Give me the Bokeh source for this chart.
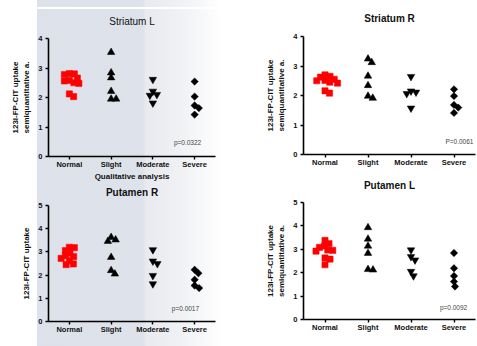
from bokeh.plotting import figure
from bokeh.layouts import row, column
from bokeh.models import FactorRange, Range1d, Label, Title, SingleIntervalTicker, ColumnDataSource
from bokeh.embed import file_html
from bokeh.resources import INLINE

groups = ["Normal", "Slight", "Moderate", "Severe"]

# Striatum L
sl_normal = [2.80, 2.78, 2.81, 2.58, 2.56, 2.66, 2.50, 2.48, 2.12, 2.03]
sl_slight = [3.53, 2.84, 2.67, 2.21, 1.95, 1.95]
sl_moderate = [2.61, 2.10, 2.07, 2.21, 1.81]
sl_severe = [2.54, 2.03, 1.73, 1.64, 1.42]
sl_p = "p=0.0322"

# Striatum R
sr_normal = [2.65, 2.62, 2.70, 2.50, 2.45, 2.42, 2.51, 2.55, 2.16, 2.08]
sr_slight = [3.24, 3.12, 2.66, 2.34, 1.91, 1.98]
sr_moderate = [2.64, 2.11, 2.06, 2.15, 1.57]
sr_severe = [2.21, 1.98, 1.68, 1.59, 1.41]
sr_p = "P=0.0061"

# Putamen R
pr_normal = [3.20, 3.18, 3.06, 2.95, 2.84, 2.80, 2.72, 2.62, 2.48, 2.45]
pr_slight = [3.63, 3.46, 3.52, 2.77, 2.05, 2.20]
pr_moderate = [3.09, 2.60, 2.49, 1.98, 1.62]
pr_severe = [2.23, 2.08, 1.80, 1.55, 1.44]
pr_p = "p=0.0017"

# Putamen L
pl_normal = [3.38, 3.24, 3.14, 3.08, 2.95, 2.97, 2.92, 2.63, 2.58, 2.34]
pl_slight = [3.93, 3.44, 3.14, 2.83, 2.12, 2.14]
pl_moderate = [2.68, 2.97, 2.54, 2.05, 1.86]
pl_severe = [2.84, 2.19, 1.86, 1.62, 1.41]
pl_p = "p=0.0092"

ylabel_two = "123I-FP-CIT uptake\nsemiquantitative a."
ylabel_one = "123I-FP-CIT uptake"
xlabel_tl = "Qualitative analysis"

FONT = "Liberation Sans"
BAND = ("linear-gradient(to right, #ffffff 0px, #ffffff 37px, #dde1ea 37px, "
        "#dee2eb 143px, #e8eaef 146px, #f0f1f4 180px, #ffffff 222px)")
TOPLINE = ("linear-gradient(to bottom, rgba(255,255,255,0) 7px, #ffffff 7px, "
           "#ffffff 9px, rgba(255,255,255,0) 9px)")


def swarm(values, px_per_x, px_per_y, d=5.0):
    placed = []
    offs = [0.0] * len(values)
    order = sorted(range(len(values)), key=lambda i: -values[i])
    step = 0.25
    for i in order:
        y = values[i] * px_per_y
        k = 0
        while True:
            cand = 0.0 if k == 0 else ((k + 1) // 2) * step * (1 if k % 2 else -1)
            if all((cand - px) ** 2 + (y - py) ** 2 >= d * d for px, py in placed):
                break
            k += 1
        placed.append((cand, y))
        offs[i] = cand / px_per_x
    return offs


def panel(title, series, ymax, width, height, left, right, top, bottom,
          ylabel, title_bold, gap_standoff, pval, px, py, palign,
          background=None, xlabel=None, title_size="10px"):
    kw = {}
    if background is not None:
        kw["styles"] = {"background": background}
    p = figure(width=width, height=height, x_range=FactorRange(*groups),
               y_range=Range1d(0, ymax), output_backend="svg", toolbar_location=None,
               min_border_left=left, min_border_right=right,
               min_border_top=top, min_border_bottom=bottom,
               background_fill_color=None, border_fill_color=None,
               outline_line_color=None, **kw)
    frame_w = width - left - right
    frame_h = height - top - bottom
    px_per_x = frame_w / len(groups)
    px_per_y = frame_h / ymax
    markers = ["square", "triangle", "inverted_triangle", "square"]
    colors = ["#ff0000", "black", "black", "black"]
    sizes = [6.2, 7.5, 7.5, 5.2]
    angles = [0, 0, 0, 0.785398]
    for g, vals, m, c, s, a in zip(groups, series, markers, colors, sizes, angles):
        offs = swarm(vals, px_per_x, px_per_y)
        src = ColumnDataSource(dict(x=[(g, o) for o in offs], y=vals))
        p.scatter("x", "y", source=src, marker=m, size=s, angle=a,
                  fill_color=c, line_color=c, line_width=0.5)
    p.xgrid.visible = False
    p.ygrid.visible = False
    for ax in (p.xaxis, p.yaxis):
        ax.axis_line_width = 1.6
        ax.axis_line_color = "black"
        ax.major_tick_line_width = 1.4
        ax.major_tick_out = 3
        ax.major_tick_in = 0
        ax.minor_tick_line_color = None
        ax.major_label_text_font = FONT
        ax.major_label_text_font_style = "bold"
        ax.major_label_text_font_size = "7.5px"
        ax.major_label_text_color = "#111111"
        ax.major_label_standoff = 2
    p.xaxis.major_label_standoff = 0
    p.yaxis.ticker = SingleIntervalTicker(interval=1)
    p.yaxis.axis_label = ylabel
    p.yaxis.axis_label_text_font = FONT
    p.yaxis.axis_label_text_font_style = "bold"
    p.yaxis.axis_label_text_font_size = "8px"
    p.yaxis.axis_label_text_line_height = 1.3
    p.yaxis.axis_label_text_color = "#111111"
    p.yaxis.axis_label_standoff = 4
    if xlabel is not None:
        p.xaxis.axis_label = xlabel
        p.xaxis.axis_label_text_font = FONT
        p.xaxis.axis_label_text_font_style = "bold"
        p.xaxis.axis_label_text_font_size = "8px"
        p.xaxis.axis_label_text_color = "#111111"
        p.xaxis.axis_label_standoff = 0
    p.title.text = title
    p.title.align = "center"
    p.title.text_font = FONT
    p.title.text_font_size = title_size
    p.title.text_font_style = "bold" if title_bold else "normal"
    p.title.text_color = "#111111"
    p.title.standoff = 0
    # invisible spacer between the title and the plot frame
    p.add_layout(Title(text=" ", text_font_size="1px", standoff=gap_standoff), "above")
    p.add_layout(Label(x=px, y=py, text=pval, text_font=FONT, text_font_size="6.5px",
                       text_color="#444444", text_align=palign, text_baseline="middle"))
    return p


p1 = panel("Striatum L", [sl_normal, sl_slight, sl_moderate, sl_severe], 4,
           240, 184, 48, 25, 38, 28, ylabel_two, False, 9, sl_p, 3.33, 0.47, "center",
           background=TOPLINE + ", " + BAND, xlabel=xlabel_tl)
p3 = panel("Putamen R", [pr_normal, pr_slight, pr_moderate, pr_severe], 5,
           240, 162, 48, 25, 21, 25, ylabel_one, True, 5, pr_p, 3.28, 0.56, "center",
           background=BAND)
p2 = panel("Striatum R", [sr_normal, sr_slight, sr_moderate, sr_severe], 4,
           237, 170, 63, 2, 36, 16, ylabel_two, True, 10, sr_p, 3.30, 0.44, "left")
p4 = panel("Putamen L", [pl_normal, pl_slight, pl_moderate, pl_severe], 5,
           237, 176, 63, 2, 32, 27, ylabel_two, True, 9, pl_p, 3.49, 0.53, "center")

layout = row(column(p1, p3), column(p2, p4))

open("out.html", "w").write(file_html(layout, INLINE))
